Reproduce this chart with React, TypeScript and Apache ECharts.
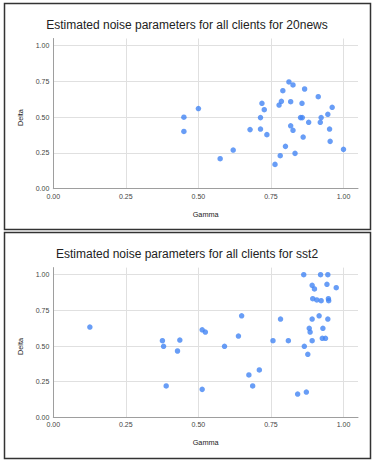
import React, { useEffect, useRef } from "react";
import * as echarts from "echarts";

const titles = [
  "Estimated noise parameters for all clients for 20news",
  "Estimated noise parameters for all clients for sst2",
];
const xAxisName = "Gamma";
const yAxisName = "Delta";
const tickValues = [0, 0.25, 0.5, 0.75, 1.0];

const news20Gamma = [
  0.45, 0.45, 0.5, 0.575, 0.62, 0.678, 0.714, 0.714, 0.719, 0.727, 0.736, 0.764,
  0.778, 0.786, 0.782, 0.791, 0.8, 0.812, 0.818, 0.818, 0.826, 0.826, 0.833,
  0.852, 0.857, 0.858, 0.861, 0.866, 0.88, 0.913, 0.92, 0.923, 0.946, 0.952,
  0.954, 0.961, 1.0,
];
const news20Delta = [
  0.5, 0.4, 0.56, 0.21, 0.27, 0.413, 0.417, 0.497, 0.597, 0.552, 0.378, 0.17,
  0.585, 0.611, 0.231, 0.685, 0.296, 0.746, 0.608, 0.44, 0.725, 0.408, 0.247,
  0.497, 0.597, 0.497, 0.361, 0.697, 0.464, 0.643, 0.464, 0.497, 0.52, 0.417,
  0.331, 0.569, 0.275,
];

const sst2Gamma = [
  0.126, 0.376, 0.38, 0.389, 0.428, 0.436, 0.513, 0.524, 0.59, 0.638, 0.649,
  0.674, 0.687, 0.71, 0.513, 0.757, 0.783, 0.81, 0.842, 0.863, 0.865, 0.872,
  0.877, 0.892, 0.9, 0.892, 0.882, 0.885, 0.892, 0.894, 0.908, 0.923, 0.916,
  0.921, 0.946, 0.943, 0.948, 0.949, 0.929, 0.927, 0.938, 0.946, 0.975,
];
const sst2Delta = [
  0.633, 0.537, 0.498, 0.22, 0.465, 0.542, 0.614, 0.598, 0.498, 0.57, 0.712,
  0.297, 0.22, 0.332, 0.196, 0.537, 0.689, 0.537, 0.163, 1.0, 0.498, 0.177,
  0.442, 0.926, 0.9, 0.689, 0.624, 0.598, 0.537, 0.832, 0.823, 0.818, 0.712,
  1.0, 1.0, 0.933, 0.832, 0.818, 0.624, 0.554, 0.554, 0.689, 0.909,
];

const FONT = "'Liberation Sans', Arial, sans-serif";
const DOT = "#4285F4";

export default function App() {
  const ref = useRef<HTMLDivElement>(null);
  useEffect(() => {
    if (!ref.current) return;
    const chart = echarts.init(ref.current, null, { renderer: "svg" });
    const grids = [
      { left: 53.3, right: 16, top: 38.5, bottom: 275.3 },
      { left: 53.3, right: 16, top: 267.6, bottom: 46.7 },
    ];
    const fmt = (v: number) =>
      tickValues.some((t) => Math.abs(t - v) < 1e-6) ? v.toFixed(2) : "";
    const mkX = (i: number) => ({
      type: "value",
      gridIndex: i,
      min: 0,
      max: 1.05,
      interval: 0.25,
      name: xAxisName,
      nameLocation: "middle",
      nameGap: 22,
      nameTextStyle: { fontFamily: FONT, fontSize: 7.3, color: "#222" },
      axisLine: { show: true, lineStyle: { color: "#9e9e9e", width: 1 } },
      axisTick: { show: false },
      axisLabel: {
        formatter: fmt,
        fontFamily: FONT,
        fontSize: 7,
        color: "#444",
        margin: 4,
        showMaxLabel: false,
      },
      splitLine: {
        show: true,
        showMinLine: false,
        showMaxLine: false,
        lineStyle: { color: "#e0e0e0", width: 1 },
      },
    });
    const mkY = (i: number) => ({
      type: "value",
      gridIndex: i,
      min: 0,
      max: 1.05,
      interval: 0.25,
      name: yAxisName,
      nameLocation: "middle",
      nameGap: 29,
      nameRotate: 90,
      nameTextStyle: { fontFamily: FONT, fontSize: 7.3, color: "#222", padding: [0, 8, 0, 0] },
      axisLine: { show: true, lineStyle: { color: "#9e9e9e", width: 1 } },
      axisTick: { show: false },
      axisLabel: {
        formatter: fmt,
        fontFamily: FONT,
        fontSize: 7,
        color: "#444",
        margin: 4,
        showMaxLabel: false,
      },
      splitLine: {
        show: true,
        showMinLine: false,
        showMaxLine: false,
        lineStyle: { color: "#e0e0e0", width: 1 },
      },
    });
    const mkData = (g: number[], d: number[]) => g.map((x, i) => [x, d[i]]);
    chart.setOption({
      animation: false,
      backgroundColor: "#ffffff",
      title: [
        {
          text: titles[0],
          left: "center",
          top: 14,
          textStyle: { fontFamily: FONT, fontSize: 12, fontWeight: "normal", color: "#222" },
        },
        {
          text: titles[1],
          left: "center",
          top: 243,
          textStyle: { fontFamily: FONT, fontSize: 12, fontWeight: "normal", color: "#222" },
        },
      ],
      grid: grids,
      xAxis: [mkX(0), mkX(1)],
      yAxis: [mkY(0), mkY(1)],
      series: [
        {
          type: "scatter",
          xAxisIndex: 0,
          yAxisIndex: 0,
          data: mkData(news20Gamma, news20Delta),
          symbolSize: 5.5,
          itemStyle: { color: DOT },
        },
        {
          type: "scatter",
          xAxisIndex: 1,
          yAxisIndex: 1,
          data: mkData(sst2Gamma, sst2Delta),
          symbolSize: 5.5,
          itemStyle: { color: DOT },
        },
      ],
      graphic: [
        {
          type: "rect",
          shape: { x: 4.5, y: 3.5, width: 366, height: 226 },
          style: { fill: "none", stroke: "#333", lineWidth: 1.5 },
          silent: true,
        },
        {
          type: "rect",
          shape: { x: 4.5, y: 232.5, width: 366, height: 226 },
          style: { fill: "none", stroke: "#333", lineWidth: 1.5 },
          silent: true,
        },
      ],
    });
    return () => chart.dispose();
  }, []);
  return (
    <div
      ref={ref}
      style={{ position: "fixed", left: 0, top: 0, width: 374, height: 464, background: "#fff" }}
    />
  );
}
